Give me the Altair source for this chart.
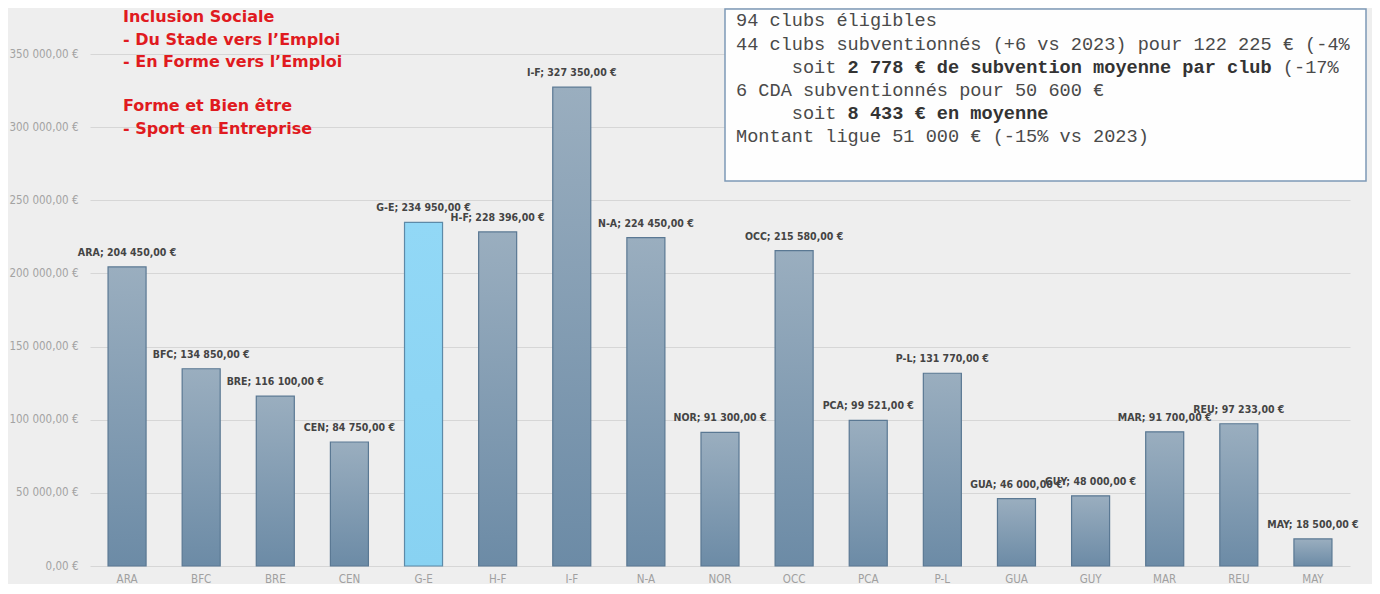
import altair as alt
import pandas as pd

# ---------------- data ----------------
regions = ["ARA", "BFC", "BRE", "CEN", "G-E", "H-F", "I-F", "N-A", "NOR",
           "OCC", "PCA", "P-L", "GUA", "GUY", "MAR", "REU", "MAY"]
amounts = [204450, 134850, 116100, 84750, 234950, 228396, 327350, 224450, 91300,
           215580, 99521, 131770, 46000, 48000, 91700, 97233, 18500]
highlight = ["G-E"]
y_ticks = [0, 50000, 100000, 150000, 200000, 250000, 300000, 350000]

red_lines = ["Inclusion Sociale", "- Du Stade vers l’Emploi", "- En Forme vers l’Emploi",
             "Forme et Bien être", "- Sport en Entreprise"]

box_lines = [
    "94 clubs éligibles",
    "44 clubs subventionnés (+6 vs 2023) pour 122 225 € (-4%",
    "     soit 2 778 € de subvention moyenne par club (-17%",
    "6 CDA subventionnés pour 50 600 €",
    "     soit 8 433 € en moyenne",
    "Montant ligue 51 000 € (-15% vs 2023)",
]
box_bold = ["2 778 € de subvention moyenne par club", "8 433 € en moyenne"]


def fr(v):
    return f"{v:,.2f}".replace(",", " ").replace(".", ",") + " €"


df = pd.DataFrame({"region": regions, "amount": amounts})
df["label"] = [f"{r}; {fr(v)}" for r, v in zip(regions, amounts)]
df["hl"] = df["region"].isin(highlight)

# ---------------- styles ----------------
COND = "DejaVu Sans Condensed, DejaVu Sans, sans-serif"
W, H = 1260, 512

xenc = alt.X("region:N", sort=regions,
             scale=alt.Scale(paddingInner=0.487, paddingOuter=0.2435),
             axis=alt.Axis(title=None, labelAngle=0, ticks=False, domain=False,
                           labelFont=COND, labelFontSize=11.5, labelColor="#a0a0a0",
                           labelPadding=7))
yenc = alt.Y("amount:Q",
             scale=alt.Scale(domain=[0, 350000], nice=False),
             axis=alt.Axis(title=None, values=y_ticks, ticks=False, domain=False,
                           gridColor="#d6d6d6", gridWidth=1,
                           labelFont=COND, labelFontSize=11.5, labelColor="#a3a3a3",
                           labelPadding=12,
                           labelExpr="datum.value == 0 ? '0,00 €' : format(datum.value/1000, 'd') + ' 000,00 €'"))

grey_grad = alt.Gradient(gradient="linear", x1=0, x2=0, y1=0, y2=1,
                         stops=[alt.GradientStop(color="#9aaebf", offset=0),
                                alt.GradientStop(color="#6c8ba6", offset=1)])
blue_grad = alt.Gradient(gradient="linear", x1=0, x2=0, y1=0, y2=1,
                         stops=[alt.GradientStop(color="#92d8f6", offset=0),
                                alt.GradientStop(color="#88d2f2", offset=1)])

base = alt.Chart(df)
bars = base.transform_filter("!datum.hl").mark_bar(
    color=grey_grad, stroke="#5a7893", strokeWidth=1.2
).encode(x=xenc, y=yenc)
bars_hl = base.transform_filter("datum.hl").mark_bar(
    color=blue_grad, stroke="#5d8aa8", strokeWidth=1.2
).encode(x=xenc, y=yenc)
labels = base.mark_text(
    dy=-14, baseline="middle", align="center", font=COND, fontSize=10.5,
    fontWeight="bold", color="#444444"
).encode(x=xenc, y=yenc, text="label")

layers = [bars, bars_hl, labels]

# red annotation (plot-pixel positions)
red_y = [-37, -14, 8, 52, 75]
for line, yy in zip(red_lines, red_y):
    layers.append(
        alt.Chart(pd.DataFrame({"t": [line]})).mark_text(
            align="left", baseline="middle", font="DejaVu Sans", fontSize=16,
            fontWeight="bold", color="#e01a20"
        ).encode(x=alt.value(33), y=alt.value(yy), text="t")
    )

# info box
layers.append(
    alt.Chart(pd.DataFrame({"a": [0]})).mark_rect(
        fill="#fefefe", stroke="#7d99b6", strokeWidth=1.5
    ).encode(x=alt.value(635), x2=alt.value(1276), y=alt.value(-45), y2=alt.value(127))
)

MONO = "Liberation Mono, Courier New, monospace"
FS = 18.6
CW = FS * 0.6
box_x0 = 646
box_y = [-34, -10, 13, 36, 59, 82]
for line, yy in zip(box_lines, box_y):
    segs = []
    pos = 0
    while pos < len(line):
        nxt = None
        for b in box_bold:
            i = line.find(b, pos)
            if i >= 0 and (nxt is None or i < nxt[0]):
                nxt = (i, b)
        if nxt is None:
            segs.append((pos, line[pos:], False))
            break
        if nxt[0] > pos:
            segs.append((pos, line[pos:nxt[0]], False))
        segs.append((nxt[0], nxt[1], True))
        pos = nxt[0] + len(nxt[1])
    for start, txt, bold in segs:
        lead = len(txt) - len(txt.lstrip(" "))
        txt = txt.strip(" ")
        if not txt:
            continue
        layers.append(
            alt.Chart(pd.DataFrame({"t": [txt]})).mark_text(
                align="left", baseline="middle", font=MONO, fontSize=FS,
                fontWeight="bold" if bold else "normal",
                color="#333333" if bold else "#4a4a4a"
            ).encode(x=alt.value(box_x0 + (start + lead) * CW), y=alt.value(yy), text="t")
        )

chart = alt.layer(*layers).properties(
    width=W, height=H,
    autosize=alt.AutoSizeParams(type="none"),
    padding={"left": 82, "top": 46, "right": 22, "bottom": 18},
    background="#eeeeee",
).configure_view(stroke=None)

chart.save("out.html", embed_options={"renderer": "svg", "actions": False})
